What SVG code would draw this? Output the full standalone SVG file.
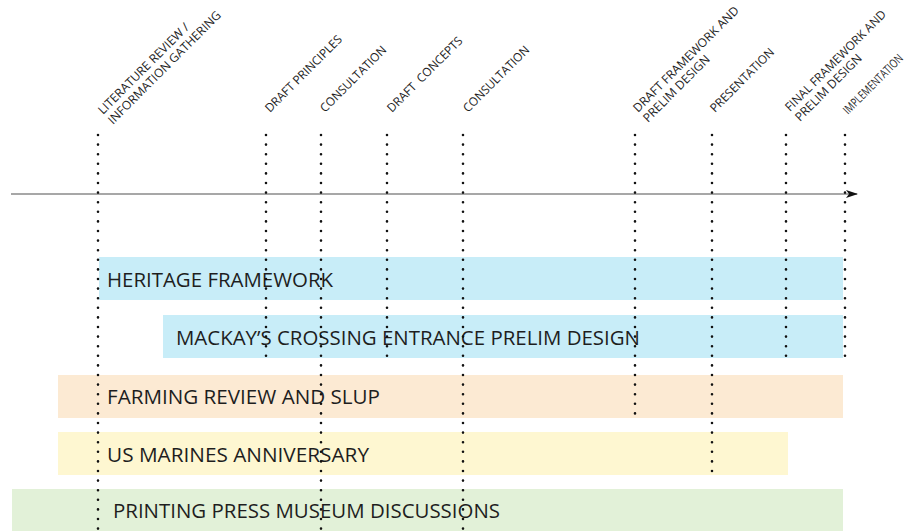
<svg xmlns="http://www.w3.org/2000/svg" width="920" height="531" viewBox="0 0 920 531">
<style>
.bar-blue{fill:#c8edf8}
.bar-orange{fill:#fcead3}
.bar-yellow{fill:#fef7d1}
.bar-green{fill:#e2f1d8}
.lbl{font-family:"Open Sans","Liberation Sans",sans-serif;font-size:20px;fill:#1e1e1e}
.ms{font-family:"Open Sans","Liberation Sans",sans-serif;font-size:12px;fill:#1e1e1e}
.dot{stroke:#111;stroke-width:2.6;stroke-linecap:round;stroke-dasharray:0 9.6;fill:none}
.axis{stroke:#8a8a8a;stroke-width:1.5;fill:none}
</style>
<defs>
<marker id="arrow" markerWidth="12" markerHeight="8" refX="11" refY="4" orient="auto" markerUnits="userSpaceOnUse">
<path d="M0,0 L12,4 L0,8 L3,4 Z" fill="#111"/>
</marker>
</defs>
<rect width="920" height="531" fill="#ffffff"/>

<g id="bars">
<g id="heritage-framework">
<rect class="bar-blue" x="99" y="257" width="744" height="43"/>
<text class="lbl" x="107" y="287" textLength="226" lengthAdjust="spacingAndGlyphs">HERITAGE FRAMEWORK</text>
</g>
<g id="mackays-crossing">
<rect class="bar-blue" x="163" y="315" width="680" height="43"/>
<text class="lbl" x="176" y="345" textLength="464" lengthAdjust="spacingAndGlyphs">MACKAY’S CROSSING ENTRANCE PRELIM DESIGN</text>
</g>
<g id="farming-review">
<rect class="bar-orange" x="58" y="375" width="785" height="43"/>
<text class="lbl" x="107" y="404" textLength="273" lengthAdjust="spacingAndGlyphs">FARMING REVIEW AND SLUP</text>
</g>
<g id="us-marines">
<rect class="bar-yellow" x="58" y="432" width="730" height="43"/>
<text class="lbl" x="107" y="462" textLength="262" lengthAdjust="spacingAndGlyphs">US MARINES ANNIVERSARY</text>
</g>
<g id="printing-press">
<rect class="bar-green" x="12" y="489" width="831" height="42"/>
<text class="lbl" x="113" y="518" textLength="387" lengthAdjust="spacingAndGlyphs">PRINTING PRESS MUSEUM DISCUSSIONS</text>
</g>
</g>

<g id="connectors">
<line class="axis" x1="11" y1="194" x2="857" y2="194" marker-end="url(#arrow)"/>
</g>

<g id="milestones">
<g id="m-literature">
<line class="dot" x1="98" y1="135" x2="98" y2="531"/>
<text class="ms" transform="translate(103,115) rotate(-45)"><tspan x="0" y="0" textLength="123" lengthAdjust="spacingAndGlyphs">LITERATURE REVIEW /</tspan><tspan x="0" y="14" textLength="154" lengthAdjust="spacingAndGlyphs">INFORMATION GATHERING</tspan></text>
</g>
<g id="m-draft-principles">
<line class="dot" x1="266" y1="135" x2="266" y2="358"/>
<text class="ms" transform="translate(270,113) rotate(-45)" textLength="103" lengthAdjust="spacingAndGlyphs">DRAFT PRINCIPLES</text>
</g>
<g id="m-consultation-1">
<line class="dot" x1="321" y1="135" x2="321" y2="531"/>
<text class="ms" transform="translate(325,113) rotate(-45)" textLength="88" lengthAdjust="spacingAndGlyphs">CONSULTATION</text>
</g>
<g id="m-draft-concepts">
<line class="dot" x1="387" y1="135" x2="387" y2="360"/>
<text class="ms" transform="translate(392,113) rotate(-45)" xml:space="preserve" textLength="101" lengthAdjust="spacingAndGlyphs">DRAFT  CONCEPTS</text>
</g>
<g id="m-consultation-2">
<line class="dot" x1="463" y1="135" x2="463" y2="531"/>
<text class="ms" transform="translate(468,113) rotate(-45)" textLength="88" lengthAdjust="spacingAndGlyphs">CONSULTATION</text>
</g>
<g id="m-draft-framework">
<line class="dot" x1="635" y1="135" x2="635" y2="417"/>
<text class="ms" transform="translate(638,113) rotate(-45)"><tspan x="0" y="0" textLength="144" lengthAdjust="spacingAndGlyphs">DRAFT FRAMEWORK AND</tspan><tspan x="0" y="14" textLength="89" lengthAdjust="spacingAndGlyphs">PRELIM DESIGN</tspan></text>
</g>
<g id="m-presentation">
<line class="dot" x1="712" y1="135" x2="712" y2="473"/>
<text class="ms" transform="translate(715,113) rotate(-45)" textLength="85" lengthAdjust="spacingAndGlyphs">PRESENTATION</text>
</g>
<g id="m-final-framework">
<line class="dot" x1="786" y1="135" x2="786" y2="357"/>
<text class="ms" transform="translate(790,112) rotate(-45)"><tspan x="0" y="0" textLength="137" lengthAdjust="spacingAndGlyphs">FINAL FRAMEWORK AND</tspan><tspan x="0" y="14" textLength="89" lengthAdjust="spacingAndGlyphs">PRELIM DESIGN</tspan></text>
</g>
<g id="m-implementation">
<line class="dot" x1="845" y1="135" x2="845" y2="359"/>
<text class="ms" transform="translate(848,115) rotate(-45)" textLength="79" lengthAdjust="spacingAndGlyphs">IMPLEMENTATION</text>
</g>
</g>
</svg>
